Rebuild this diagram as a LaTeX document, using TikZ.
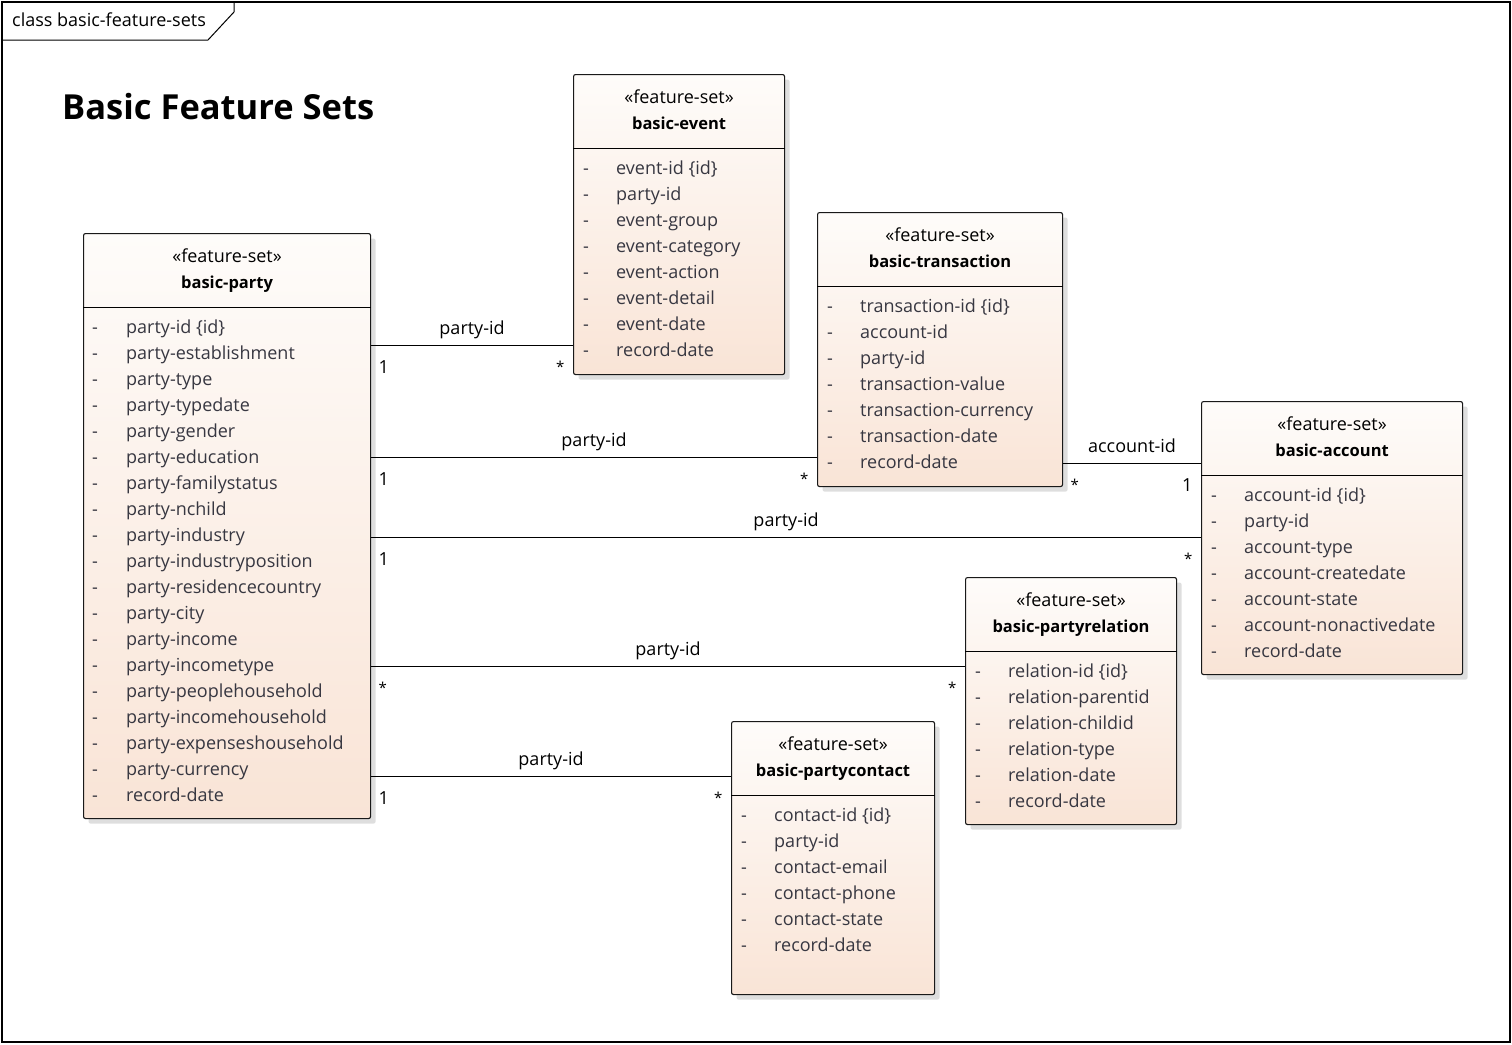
\documentclass[tikz,border=0pt]{standalone}
\usepackage{fontspec}
\setmainfont{Open Sans}
\usepackage{xcolor}
\usepackage{tikz}
\usetikzlibrary{calc, shadows}
\definecolor{fstop}{RGB}{254,252,250}
\definecolor{fsbot}{RGB}{249,228,214}
\definecolor{attrgray}{RGB}{55,55,65}
\tikzstyle{fset}      = [rectangle, anchor=north west, rounded corners=2pt, draw=black!90, line width=1.1pt, top color=fstop, bottom color=fsbot, drop shadow={shadow xshift=5pt, shadow yshift=-5pt, fill=black!13, opacity=1}]
\tikzstyle{stereo}    = [anchor=base, inner sep=0pt]
\tikzstyle{fname}     = [anchor=base, inner sep=0pt, font=\fontsize{16.5}{20}\selectfont\bfseries]
\tikzstyle{attr}      = [anchor=base west, inner sep=0pt, text=attrgray]
\tikzstyle{sep}       = [line width=1pt]
\tikzstyle{assoc}     = [line width=1pt]
\tikzstyle{role}      = [midway, anchor=base, inner sep=0pt, yshift=11pt]
\tikzstyle{multstart} = [pos=0, anchor=base west, inner sep=0pt, xshift=7pt, yshift=-28pt]
\tikzstyle{multend}   = [pos=1, anchor=base east, inner sep=0pt, xshift=-8pt, yshift=-28pt]
\tikzstyle{many}      = [font=\fontsize{15}{18}\selectfont, yshift=1pt]

\begin{document}
\begin{tikzpicture}[x=1pt, y=-1pt, font=\fontsize{18}{22}\selectfont]
    \useasboundingbox (0,0) rectangle (1512,1044);

    % frame
    \draw [line width=1.3pt] (2,2) rectangle (1510,1042);
    \draw [line width=1pt] (2,40) -- (208,40) -- (234,12) -- (234,2);
    \node (frame) [anchor=base west, inner sep=0pt] at (12,27) {class basic-feature-sets};
    \node (title) [anchor=base west, inner sep=0pt, font=\fontsize{34.5}{40}\selectfont\bfseries] at (62,119) {Basic Feature Sets};

    % feature sets
    \node (party)       [fset, minimum width=287, minimum height=585] at (83,233)  {};
    \node (event)       [fset, minimum width=211, minimum height=300] at (573,74)  {};
    \node (transaction) [fset, minimum width=245, minimum height=274] at (817,212) {};
    \node (account)     [fset, minimum width=261, minimum height=273] at (1201,401) {};
    \node (relation)    [fset, minimum width=211, minimum height=247] at (965,577) {};
    \node (contact)     [fset, minimum width=203, minimum height=273] at (731,721) {};

    \foreach \fs/\fsname in {party/basic-party, event/basic-event, transaction/basic-transaction,
                             account/basic-account, relation/basic-partyrelation, contact/basic-partycontact} {
      \node (\fs-st) [stereo] at ($(\fs.north)+(0,29)$) {«feature-set»};
      \node (\fs-nm) [fname]  at ($(\fs.north)+(0,55)$) {\fsname};
      \draw [sep] ($(\fs.north west)+(0,74)$) -- ($(\fs.north east)+(0,74)$);
    }

    % attributes
    \foreach \a [count=\i from 0] in {party-id \{id\}, party-establishment, party-type, party-typedate,
        party-gender, party-education, party-familystatus, party-nchild, party-industry,
        party-industryposition, party-residencecountry, party-city, party-income, party-incometype,
        party-peoplehousehold, party-incomehousehold, party-expenseshousehold, party-currency, record-date} {
      \node (party-d\i) [attr] at ($(party.north west)+(9,100+26*\i)$) {-};
      \node (party-a\i) [attr] at ($(party.north west)+(43,100+26*\i)$) {\a};
    }
    \foreach \a [count=\i from 0] in {event-id \{id\}, party-id, event-group, event-category,
        event-action, event-detail, event-date, record-date} {
      \node (event-d\i) [attr] at ($(event.north west)+(10,100+26*\i)$) {-};
      \node (event-a\i) [attr] at ($(event.north west)+(43,100+26*\i)$) {\a};
    }
    \foreach \a [count=\i from 0] in {transaction-id \{id\}, account-id, party-id, transaction-value,
        transaction-currency, transaction-date, record-date} {
      \node (transaction-d\i) [attr] at ($(transaction.north west)+(10,100+26*\i)$) {-};
      \node (transaction-a\i) [attr] at ($(transaction.north west)+(43,100+26*\i)$) {\a};
    }
    \foreach \a [count=\i from 0] in {account-id \{id\}, party-id, account-type, account-createdate,
        account-state, account-nonactivedate, record-date} {
      \node (account-d\i) [attr] at ($(account.north west)+(10,100+26*\i)$) {-};
      \node (account-a\i) [attr] at ($(account.north west)+(43,100+26*\i)$) {\a};
    }
    \foreach \a [count=\i from 0] in {relation-id \{id\}, relation-parentid, relation-childid,
        relation-type, relation-date, record-date} {
      \node (relation-d\i) [attr] at ($(relation.north west)+(10,100+26*\i)$) {-};
      \node (relation-a\i) [attr] at ($(relation.north west)+(43,100+26*\i)$) {\a};
    }
    \foreach \a [count=\i from 0] in {contact-id \{id\}, party-id, contact-email, contact-phone,
        contact-state, record-date} {
      \node (contact-d\i) [attr] at ($(contact.north west)+(10,100+26*\i)$) {-};
      \node (contact-a\i) [attr] at ($(contact.north west)+(43,100+26*\i)$) {\a};
    }

    % associations
    \draw [assoc] (party.east |- 0,345) -- node (r1) [role] {party-id}
        node (m1a) [multstart] {1} node (m1b) [multend, many] {*} (event.west |- 0,345);
    \draw [assoc] (party.east |- 0,457) -- node (r2) [role] {party-id}
        node (m2a) [multstart] {1} node (m2b) [multend, many] {*} (transaction.west |- 0,457);
    \draw [assoc] (transaction.east |- 0,463) -- node (r3) [role] {account-id}
        node (m3a) [multstart, many] {*} node (m3b) [multend] {1} (account.west |- 0,463);
    \draw [assoc] (party.east |- 0,537) -- node (r4) [role] {party-id}
        node (m4a) [multstart] {1} node (m4b) [multend, many] {*} (account.west |- 0,537);
    \draw [assoc] (party.east |- 0,666) -- node (r5) [role] {party-id}
        node (m5a) [multstart, many] {*} node (m5b) [multend, many] {*} (relation.west |- 0,666);
    \draw [assoc] (party.east |- 0,776) -- node (r6) [role] {party-id}
        node (m6a) [multstart] {1} node (m6b) [multend, many] {*} (contact.west |- 0,776);

\end{tikzpicture}
\end{document}
